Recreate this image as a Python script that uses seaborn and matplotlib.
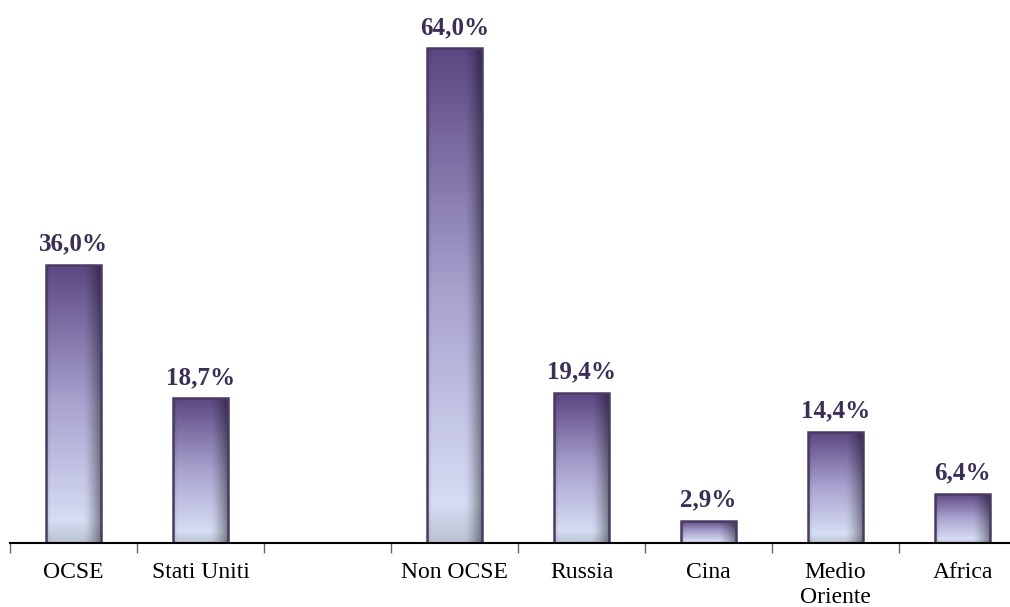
import numpy as np
import pandas as pd
import matplotlib
matplotlib.use("Agg")
import matplotlib.pyplot as plt
import seaborn as sns
from matplotlib.colors import to_rgb

# Shares by area (%); the empty slot separates the two groups
categories = ["OCSE", "Stati Uniti", "", "Non OCSE", "Russia", "Cina", "Medio\nOriente", "Africa"]
bar_categories = ["OCSE", "Stati Uniti", "Non OCSE", "Russia", "Cina", "Medio\nOriente", "Africa"]
values = [36.0, 18.7, 64.0, 19.4, 2.9, 14.4, 6.4]
value_labels = ["36,0%", "18,7%", "64,0%", "19,4%", "2,9%", "14,4%", "6,4%"]

sns.set_theme(style="white")
plt.rcParams["font.family"] = ["Liberation Serif", "DejaVu Serif"]

df = pd.DataFrame({"area": bar_categories, "share": values})

fig = plt.figure(figsize=(10.10, 6.07), dpi=100)
W, H = 1010, 607
ax = fig.add_axes([10 / W, (H - 543) / H, 1016 / W, 541 / H])

sns.barplot(data=df, x="area", y="share", order=categories, ax=ax,
            width=0.43, color="#7a6a9c", edgecolor="#4a3a64", linewidth=1.8,
            errorbar=None, saturation=1)

ax.set_xlim(-0.5, len(categories) - 0.5)
ax.set_ylim(0, 70)

# Vertical purple-to-pale-blue gradient with a shaded right edge and base
top = np.array(to_rgb("#5b4782"))
mid = np.array(to_rgb("#a9a3cf"))
bot = np.array(to_rgb("#dfe8fb"))
ny, nx = 200, 60
t = np.linspace(0, 1, ny)[:, None]
s = np.linspace(0, 1, nx)[None, :]
col = np.where(t[..., None] < 0.5,
               top + (mid - top) * (t[..., None] / 0.5),
               mid + (bot - mid) * ((t[..., None] - 0.5) / 0.5))
col = np.broadcast_to(col, (ny, nx, 3)).copy()
shade = 1 - 0.42 * np.clip((s - 0.68) / 0.32, 0, 1) ** 1.4
shade = shade * (1 - 0.12 * np.clip((0.08 - s) / 0.08, 0, 1))
base = 1 - 0.16 * np.clip((t - 0.92) / 0.08, 0, 1)
grad = col * shade[..., None] * base[..., None]

for patch in ax.patches:
    x0, y0 = patch.get_x(), patch.get_y()
    w, h = patch.get_width(), patch.get_height()
    if not np.isfinite(h) or h <= 0:
        continue
    im = ax.imshow(grad, extent=[x0, x0 + w, y0, y0 + h], aspect="auto",
                   interpolation="bilinear", zorder=patch.get_zorder() - 0.1)
    im.set_clip_path(patch)
    patch.set_facecolor("none")

ax.set_xlim(-0.5, len(categories) - 0.5)
ax.set_ylim(0, 70)

# Value labels above the bars
for cat, v, lab in zip(bar_categories, values, value_labels):
    xi = categories.index(cat)
    ax.text(xi, v + 1.85, lab, ha="center", va="baseline", fontsize=18,
            fontweight="bold", color="#3c2f55")

# Ticks at slot boundaries, labels at slot centres
ax.set_xticks(np.arange(-0.5, len(categories), 1.0))
ax.set_xticklabels([])
ax.set_xticks(np.arange(len(categories)), minor=True)
ax.set_xticklabels(categories, minor=True, fontsize=17, color="black",
                   linespacing=1.2)
ax.tick_params(axis="x", which="major", length=7, width=1, color="#666666",
               direction="out", bottom=True)
ax.tick_params(axis="x", which="minor", length=0, pad=14)
ax.set_yticks([])
ax.set_xlabel("")
ax.set_ylabel("")

for side in ["top", "right", "left"]:
    ax.spines[side].set_visible(False)
ax.spines["bottom"].set_color("black")
ax.spines["bottom"].set_linewidth(1.5)

fig.savefig("out.png", dpi=100)
